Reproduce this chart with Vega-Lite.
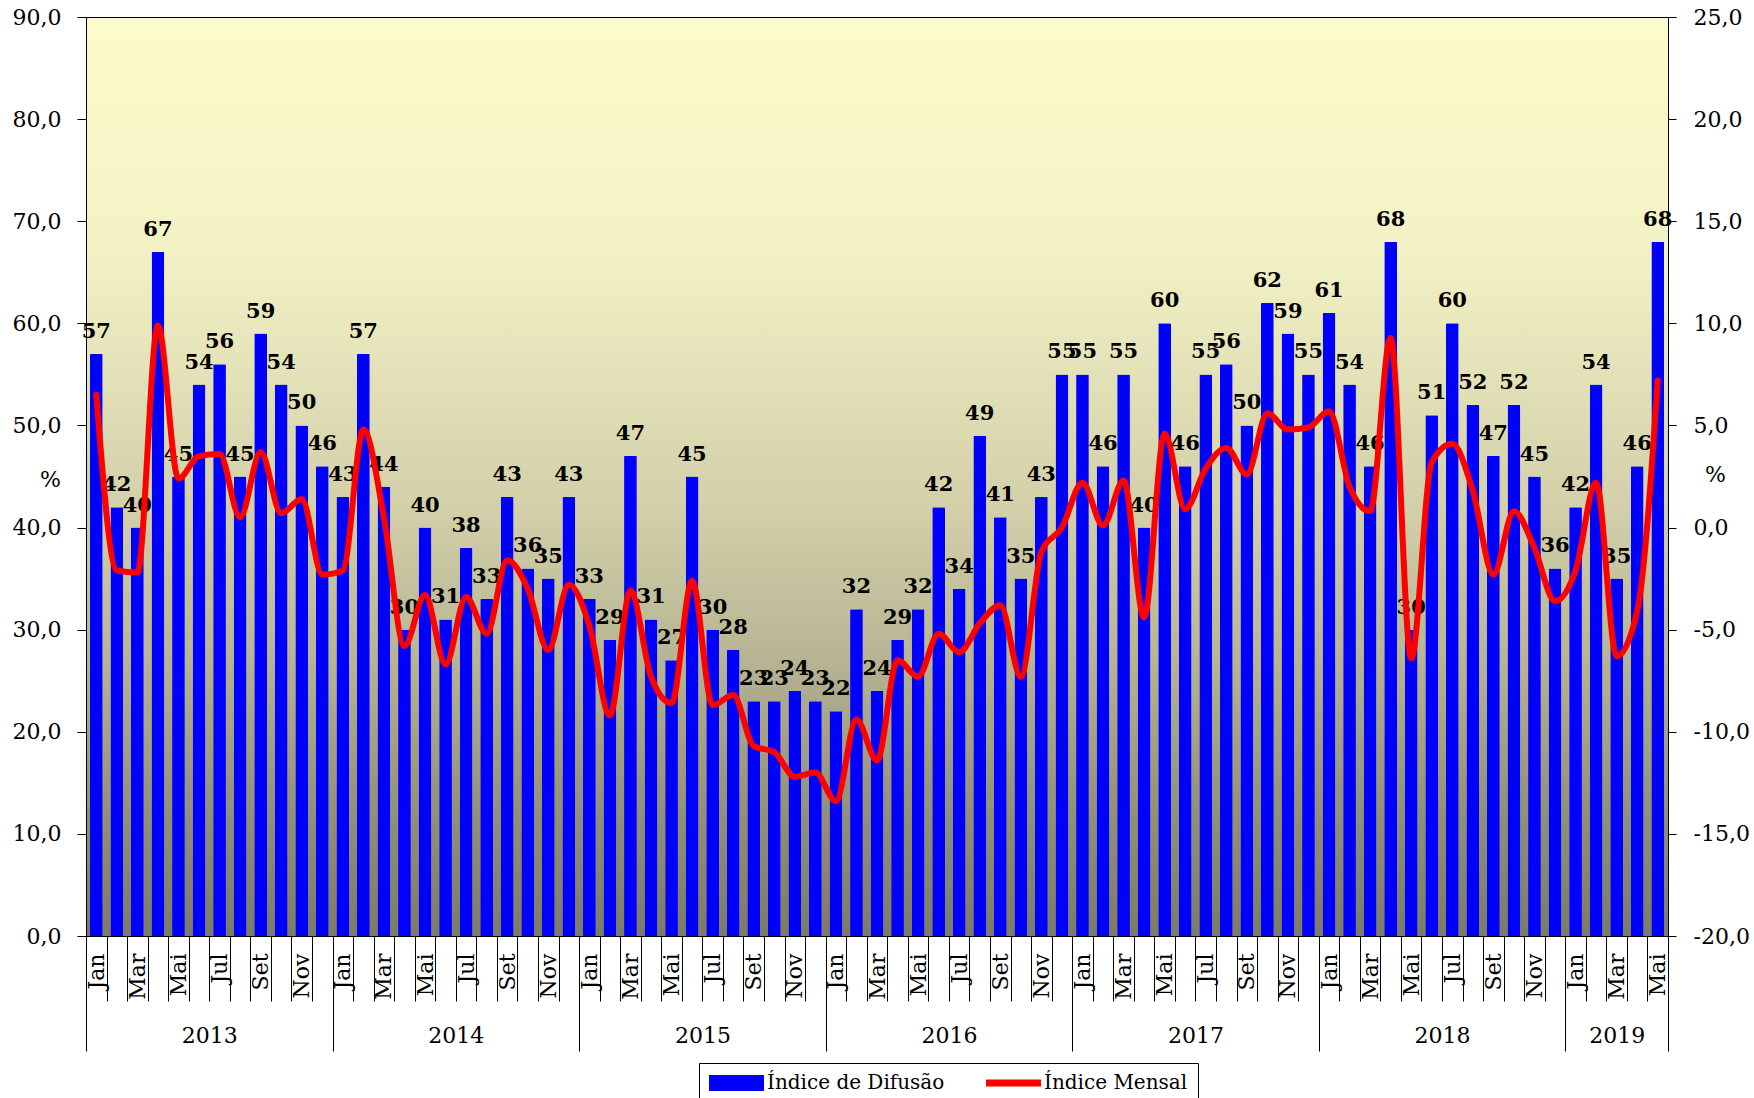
{
  "$schema": "https://vega.github.io/schema/vega-lite/v6.json",
  "width": 1582,
  "height": 919,
  "autosize": {"type": "none"},
  "padding": {"left": 86, "top": 17, "right": 86, "bottom": 162},
  "background": "white",
  "view": {
    "fill": {"gradient": "linear", "x1": 0, "y1": 0, "x2": 0, "y2": 1,
      "stops": [
        {"offset": 0, "color": "#FBFBCB"},
        {"offset": 0.25, "color": "#F3F2C5"},
        {"offset": 0.53, "color": "#D3D0AA"},
        {"offset": 0.69, "color": "#B8B694"},
        {"offset": 0.87, "color": "#908F78"},
        {"offset": 1, "color": "#7C7B68"}
      ]},
    "stroke": "black",
    "strokeWidth": 1
  },
  "datasets": {
    "meses": [
      {"mes": "2013-01", "difusao": 57, "mensal": 6.5},
      {"mes": "2013-02", "difusao": 42, "mensal": -2.1},
      {"mes": "2013-03", "difusao": 40, "mensal": -2.2},
      {"mes": "2013-04", "difusao": 67, "mensal": 9.9},
      {"mes": "2013-05", "difusao": 45, "mensal": 2.4},
      {"mes": "2013-06", "difusao": 54, "mensal": 3.5},
      {"mes": "2013-07", "difusao": 56, "mensal": 3.6},
      {"mes": "2013-08", "difusao": 45, "mensal": 0.5},
      {"mes": "2013-09", "difusao": 59, "mensal": 3.7},
      {"mes": "2013-10", "difusao": 54, "mensal": 0.7},
      {"mes": "2013-11", "difusao": 50, "mensal": 1.4},
      {"mes": "2013-12", "difusao": 46, "mensal": -2.3},
      {"mes": "2014-01", "difusao": 43, "mensal": -2.1},
      {"mes": "2014-02", "difusao": 57, "mensal": 4.8},
      {"mes": "2014-03", "difusao": 44, "mensal": 0.5},
      {"mes": "2014-04", "difusao": 30, "mensal": -5.8},
      {"mes": "2014-05", "difusao": 40, "mensal": -3.3},
      {"mes": "2014-06", "difusao": 31, "mensal": -6.7},
      {"mes": "2014-07", "difusao": 38, "mensal": -3.4},
      {"mes": "2014-08", "difusao": 33, "mensal": -5.2},
      {"mes": "2014-09", "difusao": 43, "mensal": -1.6},
      {"mes": "2014-10", "difusao": 36, "mensal": -3.0},
      {"mes": "2014-11", "difusao": 35, "mensal": -6.0},
      {"mes": "2014-12", "difusao": 43, "mensal": -2.8},
      {"mes": "2015-01", "difusao": 33, "mensal": -4.8},
      {"mes": "2015-02", "difusao": 29, "mensal": -9.2},
      {"mes": "2015-03", "difusao": 47, "mensal": -3.1},
      {"mes": "2015-04", "difusao": 31, "mensal": -7.3},
      {"mes": "2015-05", "difusao": 27, "mensal": -8.6},
      {"mes": "2015-06", "difusao": 45, "mensal": -2.6},
      {"mes": "2015-07", "difusao": 30, "mensal": -8.7},
      {"mes": "2015-08", "difusao": 28, "mensal": -8.2},
      {"mes": "2015-09", "difusao": 23, "mensal": -10.7},
      {"mes": "2015-10", "difusao": 23, "mensal": -11.0},
      {"mes": "2015-11", "difusao": 24, "mensal": -12.2},
      {"mes": "2015-12", "difusao": 23, "mensal": -12.0},
      {"mes": "2016-01", "difusao": 22, "mensal": -13.4},
      {"mes": "2016-02", "difusao": 32, "mensal": -9.4},
      {"mes": "2016-03", "difusao": 24, "mensal": -11.4},
      {"mes": "2016-04", "difusao": 29, "mensal": -6.5},
      {"mes": "2016-05", "difusao": 32, "mensal": -7.3},
      {"mes": "2016-06", "difusao": 42, "mensal": -5.2},
      {"mes": "2016-07", "difusao": 34, "mensal": -6.1},
      {"mes": "2016-08", "difusao": 49, "mensal": -4.7},
      {"mes": "2016-09", "difusao": 41, "mensal": -3.8},
      {"mes": "2016-10", "difusao": 35, "mensal": -7.3},
      {"mes": "2016-11", "difusao": 43, "mensal": -1.2},
      {"mes": "2016-12", "difusao": 55, "mensal": 0.0},
      {"mes": "2017-01", "difusao": 55, "mensal": 2.2},
      {"mes": "2017-02", "difusao": 46, "mensal": 0.1},
      {"mes": "2017-03", "difusao": 55, "mensal": 2.3},
      {"mes": "2017-04", "difusao": 40, "mensal": -4.4},
      {"mes": "2017-05", "difusao": 60, "mensal": 4.6},
      {"mes": "2017-06", "difusao": 46, "mensal": 0.9},
      {"mes": "2017-07", "difusao": 55, "mensal": 2.9},
      {"mes": "2017-08", "difusao": 56, "mensal": 3.9},
      {"mes": "2017-09", "difusao": 50, "mensal": 2.6},
      {"mes": "2017-10", "difusao": 62, "mensal": 5.6},
      {"mes": "2017-11", "difusao": 59, "mensal": 4.8},
      {"mes": "2017-12", "difusao": 55, "mensal": 4.9},
      {"mes": "2018-01", "difusao": 61, "mensal": 5.7},
      {"mes": "2018-02", "difusao": 54, "mensal": 2.0},
      {"mes": "2018-03", "difusao": 46, "mensal": 0.8},
      {"mes": "2018-04", "difusao": 68, "mensal": 9.3},
      {"mes": "2018-05", "difusao": 30, "mensal": -6.4},
      {"mes": "2018-06", "difusao": 51, "mensal": 3.2},
      {"mes": "2018-07", "difusao": 60, "mensal": 4.1},
      {"mes": "2018-08", "difusao": 52, "mensal": 1.8},
      {"mes": "2018-09", "difusao": 47, "mensal": -2.3},
      {"mes": "2018-10", "difusao": 52, "mensal": 0.8},
      {"mes": "2018-11", "difusao": 45, "mensal": -1.0},
      {"mes": "2018-12", "difusao": 36, "mensal": -3.6},
      {"mes": "2019-01", "difusao": 42, "mensal": -2.1},
      {"mes": "2019-02", "difusao": 54, "mensal": 2.2},
      {"mes": "2019-03", "difusao": 35, "mensal": -6.3},
      {"mes": "2019-04", "difusao": 46, "mensal": -4.1},
      {"mes": "2019-05", "difusao": 68, "mensal": 7.2}
    ],
    "anos": [
      {"ano": "2013", "inicio": 0, "fim": 12},
      {"ano": "2014", "inicio": 12, "fim": 24},
      {"ano": "2015", "inicio": 24, "fim": 36},
      {"ano": "2016", "inicio": 36, "fim": 48},
      {"ano": "2017", "inicio": 48, "fim": 60},
      {"ano": "2018", "inicio": 60, "fim": 72},
      {"ano": "2019", "inicio": 72, "fim": 77}
    ]
  },
  "layer": [
    {
      "data": {"name": "meses"},
      "mark": {"type": "bar", "width": {"band": 0.62}, "cornerRadius": 1},
      "encoding": {
        "x": {
          "field": "mes", "type": "ordinal",
          "scale": {"type": "band", "paddingInner": 0, "paddingOuter": 0},
          "axis": {
            "orient": "bottom",
            "title": null,
            "tickBand": "extent",
            "tickSize": 65,
            "labelAngle": 270,
            "labelPadding": -48,
            "labelOverlap": false,
            "labelExpr": "['Jan','','Mar','','Mai','','Jul','','Set','','Nov',''][toNumber(substring(datum.value,5,7))-1]"
          }
        },
        "y": {
          "field": "difusao", "type": "quantitative",
          "scale": {"domain": [0, 90], "nice": false},
          "axis": {
            "orient": "left",
            "title": "%", "titleAngle": 0, "titleX": -36, "titleY": 462,
            "titleAlign": "center", "titleBaseline": "middle",
            "values": [0, 10, 20, 30, 40, 50, 60, 70, 80, 90],
            "labelExpr": "datum.value + ',0'",
            "tickSize": 9, "labelPadding": 16
          }
        },
        "color": {
          "datum": "Índice de Difusão",
          "scale": {"domain": ["Índice de Difusão", "Índice Mensal"], "range": ["#0000FF", "#FF0000"]},
          "legend": {
            "title": null, "orient": "none", "legendX": 613, "legendY": 1046,
            "direction": "horizontal", "strokeColor": "black", "fillColor": "white",
            "padding": 10, "columnPadding": 41, "labelOffset": 38, "labelLimit": 400,
            "symbolSize": 400,
            "encode": {
              "symbols": {
                "update": {
                  "shape": {"signal": "datum.value === 'Índice Mensal' ? 'M-1,-0.35H4.5V0.35H-1Z' : 'M-1,-0.8H4.5V0.8H-1Z'"},
                  "fill": {"signal": "datum.value === 'Índice Mensal' ? '#FF0000' : '#0000FF'"},
                  "stroke": {"value": "transparent"},
                  "strokeWidth": {"value": 0},
                  "opacity": {"value": 1},
                  "fillOpacity": {"value": 1}
                }
              }
            }
          }
        }
      }
    },
    {
      "data": {"name": "meses"},
      "mark": {"type": "text", "font": "DejaVu Serif", "fontSize": 21, "fontWeight": "bold", "color": "black", "baseline": "alphabetic", "dy": -16},
      "encoding": {
        "x": {"field": "mes", "type": "ordinal", "scale": {"type": "point", "padding": 0.5}, "axis": null},
        "y": {"field": "difusao", "type": "quantitative", "scale": {"domain": [0, 90], "nice": false}, "axis": null},
        "text": {"field": "difusao", "format": "d"}
      }
    },
    {
      "data": {"name": "meses"},
      "mark": {"type": "line", "interpolate": "monotone", "strokeWidth": 6, "strokeCap": "round", "strokeJoin": "round"},
      "encoding": {
        "x": {"field": "mes", "type": "ordinal", "scale": {"type": "point", "padding": 0.5}, "axis": null},
        "y": {
          "field": "mensal", "type": "quantitative",
          "scale": {"domain": [-20, 25], "nice": false, "zero": false},
          "axis": {
            "orient": "right",
            "title": "%", "titleAngle": 0, "titleX": 47, "titleY": 457,
            "titleAlign": "center", "titleBaseline": "middle",
            "values": [-20, -15, -10, -5, 0, 5, 10, 15, 20, 25],
            "labelExpr": "datum.value + ',0'",
            "tickSize": 8, "labelPadding": 17
          }
        },
        "color": {"datum": "Índice Mensal"}
      }
    },
    {
      "data": {"name": "anos"},
      "mark": {"type": "rect", "opacity": 0},
      "encoding": {
        "x": {
          "field": "inicio", "type": "quantitative",
          "scale": {"domain": [0, 77], "nice": false, "zero": false},
          "axis": {
            "orient": "bottom",
            "title": null, "values": [0, 12, 24, 36, 48, 60, 72, 77],
            "domain": false, "tickSize": 115,
            "labelExpr": "datum.value < 77 ? '' + (2013 + floor(datum.value / 12)) : ''",
            "labelOffset": {"condition": {"test": "datum.value == 72", "value": 51.4}, "value": 123.3},
            "labelPadding": -16, "labelBaseline": "middle", "labelAlign": "center", "labelAngle": 0,
            "labelFlush": false, "labelOverlap": false, "labelBound": false
          }
        },
        "x2": {"field": "fim"}
      }
    }
  ],
  "resolve": {"scale": {"x": "independent", "y": "independent"}},
  "config": {
    "font": "DejaVu Serif",
    "axis": {
      "labelFont": "DejaVu Serif", "labelFontSize": 22, "labelColor": "#000000",
      "titleFont": "DejaVu Serif", "titleFontSize": 22, "titleColor": "#000000", "titleFontWeight": "normal",
      "domainColor": "#000000", "tickColor": "#000000", "grid": false
    },
    "legend": {"labelFont": "DejaVu Serif", "labelFontSize": 20, "labelColor": "#000000"}
  }
}
